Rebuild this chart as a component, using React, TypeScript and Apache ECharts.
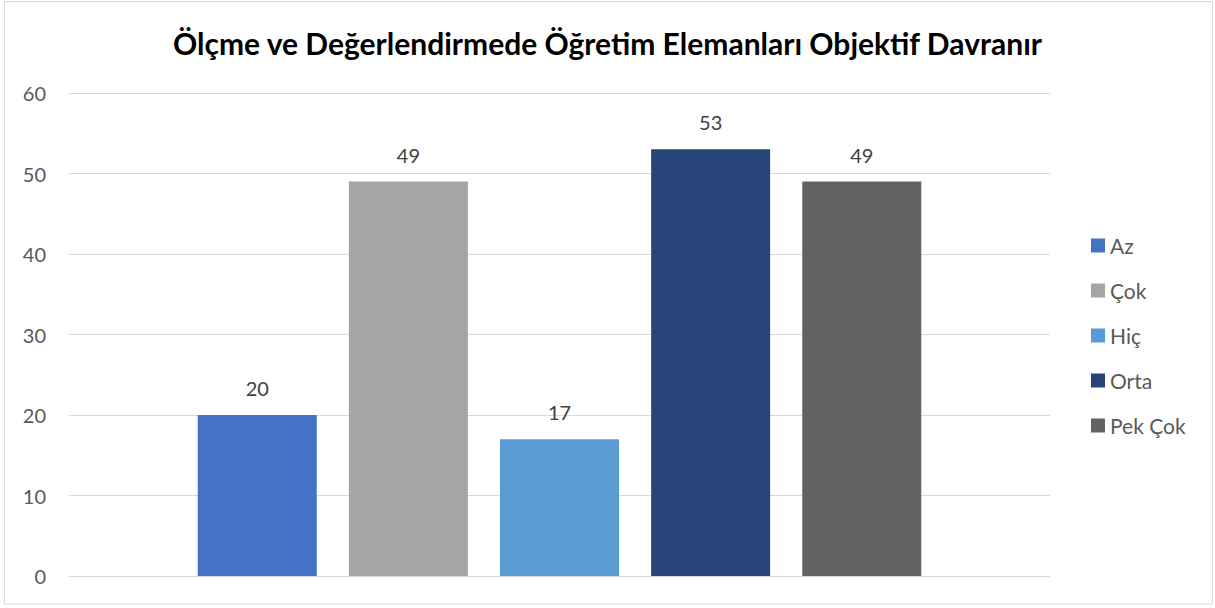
import React, { useEffect, useRef } from "react";
import * as echarts from "echarts";

const categories = [""];
const seriesNames = ["Az", "Çok", "Hiç", "Orta", "Pek Çok"];
const seriesValues = [20, 49, 17, 53, 49];
const seriesColors = ["#4472C4", "#A5A5A5", "#5B9BD5", "#264478", "#636363"];
const yTicks = { min: 0, max: 60, interval: 10 };
const titleText = "Ölçme ve Değerlendirmede Öğretim Elemanları Objektif Davranır";

const FONT = "Lato, 'Open Sans', sans-serif";

export default function App() {
  const ref = useRef<HTMLDivElement>(null);
  useEffect(() => {
    document.body.style.margin = "0";
    const chart = echarts.init(ref.current!, null, { renderer: "svg" });
    chart.setOption({
      animation: false,
      backgroundColor: "#ffffff",
      textStyle: { fontFamily: FONT },
      title: {
        text: titleText,
        left: "center",
        top: 28,
        padding: 0,
        textStyle: { fontFamily: FONT, fontSize: 30, fontWeight: "bold", color: "#000000" },
      },
      legend: {
        orient: "vertical",
        left: 1091,
        top: 235,
        padding: 0,
        itemWidth: 14,
        itemHeight: 14,
        itemGap: 24,
        icon: "rect",
        textStyle: { fontFamily: FONT, fontSize: 21, color: "#595959" },
        data: seriesNames,
      },
      grid: { left: 69, right: 165, top: 93, bottom: 32, containLabel: false },
      xAxis: {
        type: "category",
        data: categories,
        axisLine: { show: true, lineStyle: { color: "#d9d9d9", width: 1 } },
        axisTick: { show: false },
        axisLabel: { show: false },
      },
      yAxis: {
        type: "value",
        min: yTicks.min,
        max: yTicks.max,
        interval: yTicks.interval,
        axisLine: { show: false },
        axisTick: { show: false },
        axisLabel: { fontFamily: FONT, fontSize: 20, color: "#595959", margin: 23 },
        splitLine: { lineStyle: { color: "#d9d9d9", width: 1 } },
      },
      series: seriesNames.map((name, i) => ({
        name,
        type: "bar",
        data: [seriesValues[i]],
        barWidth: 119,
        barGap: "27%",
        itemStyle: { color: seriesColors[i] },
        label: {
          show: true,
          position: "top",
          distance: 17,
          fontFamily: FONT,
          fontSize: 20,
          color: "#404040",
        },
      })),
      graphic: [
        {
          type: "rect",
          shape: { x: 4.5, y: 1.5, width: 1208, height: 602.5 },
          style: { fill: "none", stroke: "#d9d9d9", lineWidth: 1 },
          silent: true,
        },
      ],
    });
    return () => chart.dispose();
  }, []);
  return <div ref={ref} style={{ width: 1215, height: 608 }} />;
}
